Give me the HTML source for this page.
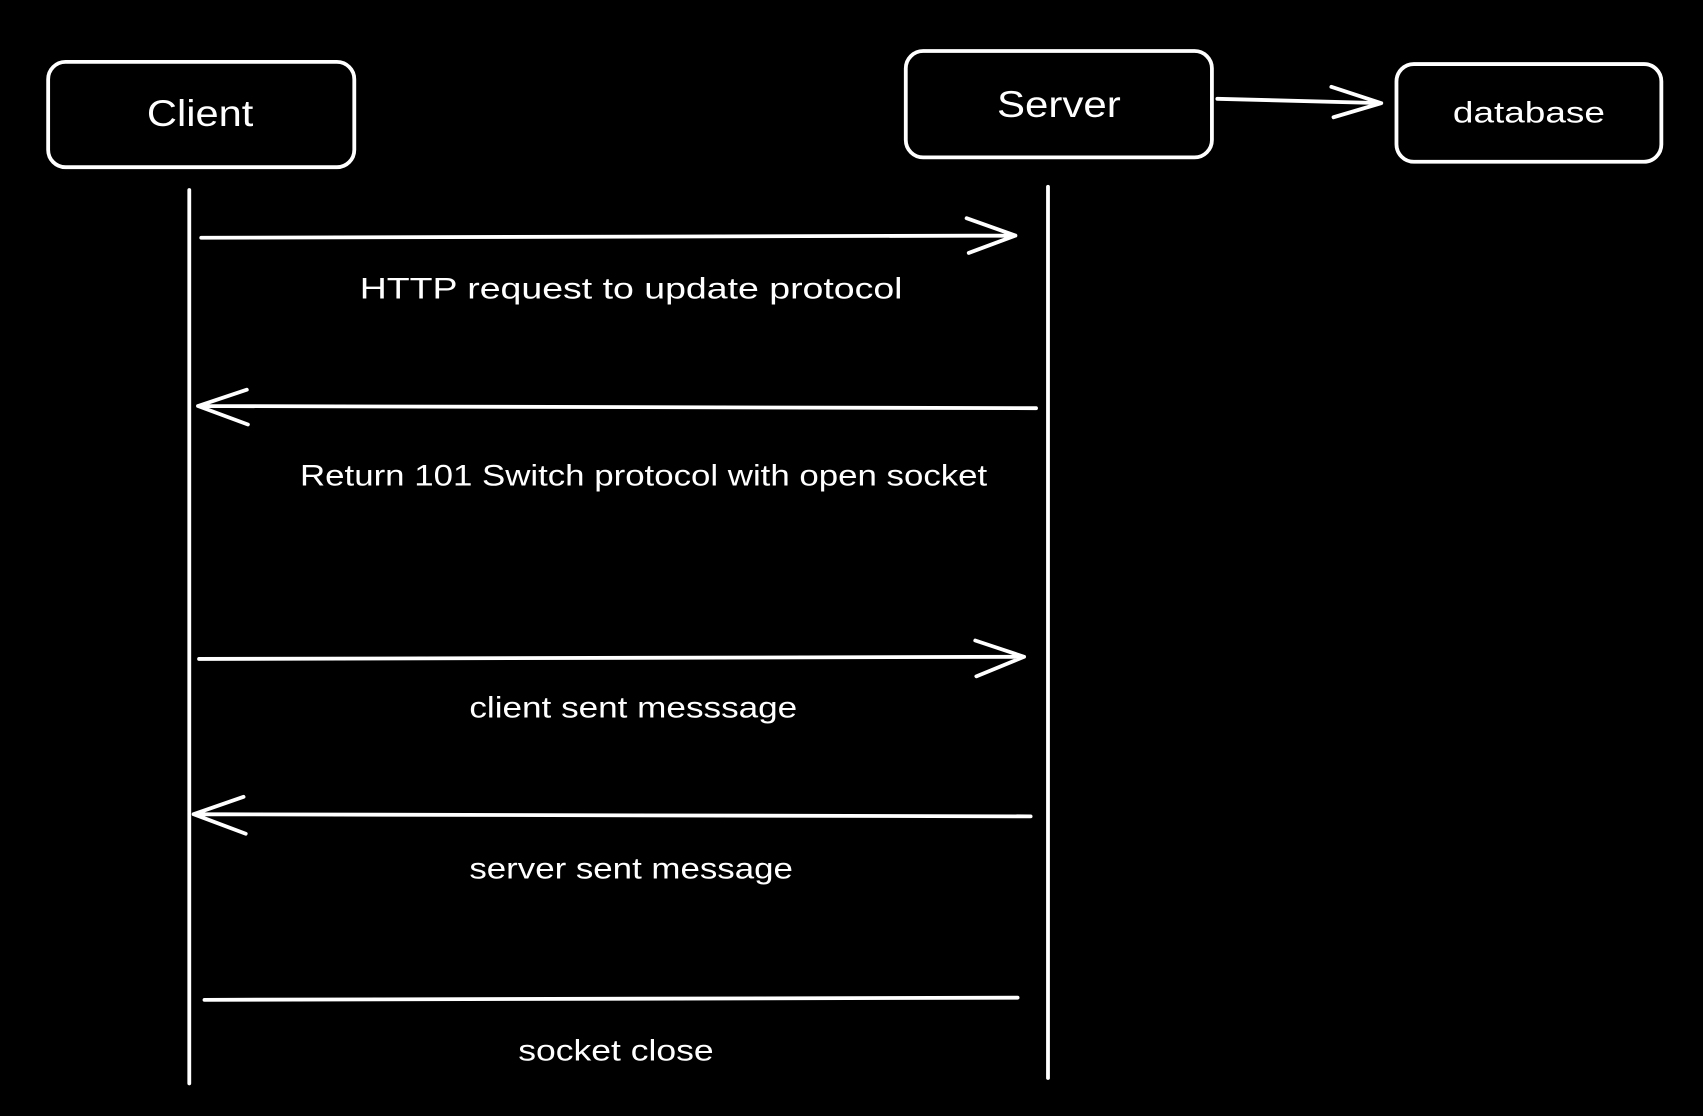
<!DOCTYPE html>
<html><head><meta charset="utf-8"><style>
html,body{margin:0;padding:0;background:#000;}
svg{display:block;}
text{font-family:"Liberation Sans",sans-serif;fill:#fff;}
</style></head><body>
<svg width="1703" height="1116" viewBox="0 0 1568 1028" xmlns="http://www.w3.org/2000/svg">
<rect width="1568" height="1028" fill="#000"/>
<g fill="none" stroke="#fff" stroke-width="3.5" stroke-linecap="round" stroke-linejoin="round">
<rect x="44" y="57" width="282" height="97" rx="16"/>
<rect x="834" y="47" width="282" height="98" rx="16"/>
<rect x="1286" y="59" width="244" height="90" rx="16"/>
<path d="M1121 91 L1272 95 M1226 80 L1272 95 L1228 108"/>
<path d="M174 175 L174 998"/>
<path d="M965 172 L965 993"/>
<path d="M185 219 L935 217 M890 201 L935 217 L892 233"/>
<path d="M954 376 L182 374 M227 359 L182 374 L228 391"/>
<path d="M183 607 L943 605 M898 590 L943 605 L899 623"/>
<path d="M949 752 L178 750 M224 734 L178 750 L226 768"/>
<path d="M188 921 L937 919"/>
</g>
<text x="184" y="116" font-size="34" text-anchor="middle" textLength="98" lengthAdjust="spacingAndGlyphs">Client</text>
<text x="975" y="108" font-size="34" text-anchor="middle" textLength="114" lengthAdjust="spacingAndGlyphs">Server</text>
<text x="1408" y="113" font-size="27" text-anchor="middle" textLength="140" lengthAdjust="spacingAndGlyphs">database</text>
<text x="331" y="275" font-size="27" textLength="500" lengthAdjust="spacingAndGlyphs">HTTP request to update protocol</text>
<text x="276" y="447" font-size="27" textLength="633" lengthAdjust="spacingAndGlyphs">Return 101 Switch protocol with open socket</text>
<text x="432" y="661" font-size="27" textLength="302" lengthAdjust="spacingAndGlyphs">client sent messsage</text>
<text x="432" y="809" font-size="27" textLength="298" lengthAdjust="spacingAndGlyphs">server sent message</text>
<text x="477" y="977" font-size="27" textLength="180" lengthAdjust="spacingAndGlyphs">socket close</text>
</svg>
</body></html>
